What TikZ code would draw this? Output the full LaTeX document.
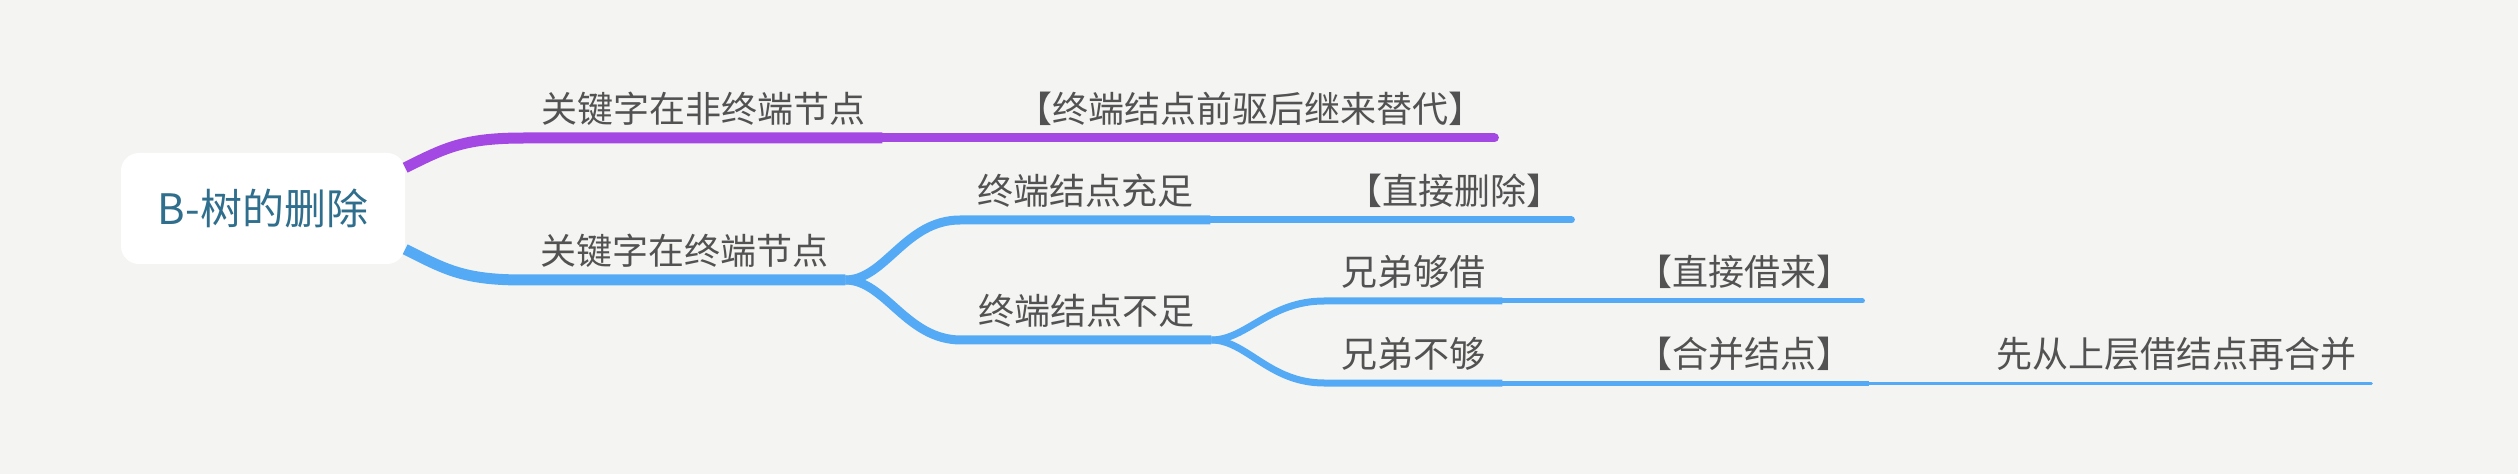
\documentclass[tikz,border=0pt]{standalone}
\usepackage{fontspec}
\usepackage{tikz}
\newfontfamily\cjk{Noto Sans CJK SC}
\definecolor{bgcol}{RGB}{244,245,243}
\definecolor{txtcol}{RGB}{82,82,82}
\definecolor{rootcol}{RGB}{47,110,140}
\definecolor{brpurple}{RGB}{164,72,228}
\definecolor{brblue}{RGB}{85,170,245}

\begin{document}
\begin{tikzpicture}[x=1pt,y=1pt,
  topic/.style={anchor=south west, inner xsep=17pt, inner ysep=0pt,
    text height=30pt, text depth=15.5pt, text=txtcol,
    font=\cjk\fontsize{36}{40}\selectfont},
  lw1/.style={line width=11pt},
  lw2/.style={line width=9pt},
  lw3/.style={line width=7pt},
  lw4/.style={line width=5pt},
  lw5/.style={line width=3pt},
  leaf/.style={line cap=round, shorten >=#1}]
\fill[bgcol] (0,0) rectangle (2518,474);
\node[fill=white, rounded corners=18pt, minimum width=284pt, minimum height=111pt,
  text=rootcol, font=\cjk\fontsize{42}{46}\selectfont] (root) at (263,265.5) {B-树的删除};
% first level
\node[topic] (k1) at (524,336) {关键字在非终端节点};
\node[topic] (k1r) at (999,336) {【终端结点前驱后继来替代】};
\node[topic] (k2) at (523,194) {关键字在终端节点};
% terminal node
\node[topic] (e1) at (960,254) {终端结点充足};
\node[topic] (e1r) at (1329,254) {【直接删除】};
\node[topic] (e2) at (961,134) {终端结点不足};
% brother
\node[topic] (s1) at (1324,173) {兄弟够借};
\node[topic] (s1r) at (1619,173) {【直接借来】};
\node[topic] (s2) at (1324,91) {兄弟不够};
\node[topic] (s2r) at (1619,91) {【合并结点】};
\node[topic] (s2rr) at (1979,91) {先从上层借结点再合并};

\draw[lw1, brpurple] (root.16) .. controls +(40,20) and +(-60,0) .. (k1.south west) -- (k1.south east);
\draw[lw2, leaf=7pt, brpurple] (k1.south east) -- (k1r.south east);
\draw[lw1, brblue] (root.-16) .. controls +(40,-20) and +(-60,0) .. (k2.south west) -- (k2.south east);
\draw[lw2, brblue] (k2.south east) .. controls +(40,0) and +(-55,0) .. (e1.south west) -- (e1.south east);
\draw[lw3, leaf=8pt, brblue] (e1.south east) -- (e1r.south east);
\draw[lw2, brblue] (k2.south east) .. controls +(40,0) and +(-55,0) .. (e2.south west) -- (e2.south east);
\draw[lw3, brblue] (e2.south east) .. controls +(35,0) and +(-55,0) .. (s1.south west) -- (s1.south east);
\draw[lw4, leaf=7pt, brblue] (s1.south east) -- (s1r.south east);
\draw[lw3, brblue] (e2.south east) .. controls +(35,0) and +(-55,0) .. (s2.south west) -- (s2.south east);
\draw[lw4, brblue] (s2.south east) -- (s2r.south east);
\draw[lw5, leaf=2pt, brblue] (s2r.south east) -- (s2rr.south east);
\end{tikzpicture}
\end{document}
